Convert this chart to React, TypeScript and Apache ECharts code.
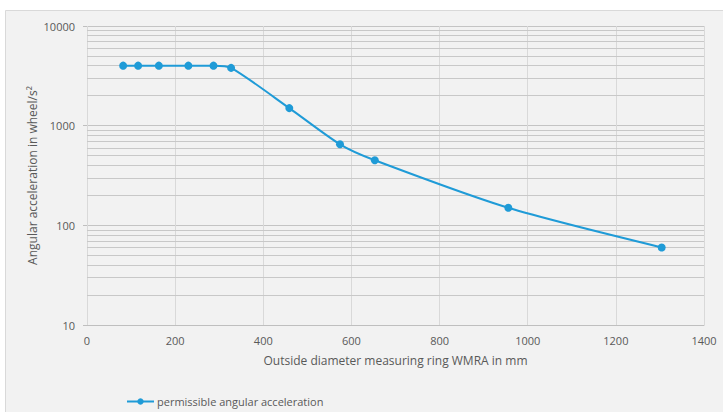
import React, { useEffect, useRef } from "react";
import * as echarts from "echarts";

const xValues = [82, 116, 163, 230, 287, 327, 459, 574, 653, 956, 1304];
const yValues = [4000, 4000, 4000, 4000, 4000, 3800, 1500, 650, 450, 150, 60];
const minorGrid = [20, 30, 40, 50, 60, 70, 80, 90, 200, 300, 400, 500, 600, 700, 800, 900, 2000, 3000, 4000, 5000, 6000, 7000, 8000, 9000];
const seriesName = "permissible angular acceleration";
const xTitle = "Outside diameter measuring ring WMRA in mm";
const yTitle = "Angular acceleration in wheel/s²";

const FONT = "'Open Sans', sans-serif";
const TEXT = "#595959";
const LINE = "#1f9bd7";

export default function App() {
  const ref = useRef<HTMLDivElement>(null);
  useEffect(() => {
    if (!ref.current) return;
    const chart = echarts.init(ref.current, null, { renderer: "svg" });
    chart.setOption({
      animation: false,
      backgroundColor: "#ffffff",
      textStyle: { fontFamily: FONT },
      graphic: [
        {
          type: "rect",
          z: -10,
          silent: true,
          shape: { x: 5.5, y: 10.5, width: 720, height: 405 },
          style: { fill: "#f2f2f2", stroke: "#d9d9d9", lineWidth: 1 },
        },
      ],
      grid: { left: 87, right: 19, top: 26, bottom: 87 },
      xAxis: {
        type: "value",
        min: 0,
        max: 1400,
        interval: 200,
        name: xTitle,
        nameLocation: "middle",
        nameGap: 29,
        nameTextStyle: { color: TEXT, fontSize: 12, fontFamily: FONT },
        axisLine: { show: true, lineStyle: { color: "#bfbfbf", width: 1 } },
        axisTick: { show: false },
        axisLabel: { color: TEXT, fontSize: 11, margin: 10, fontFamily: FONT, formatter: (v: number) => String(v) },
        splitLine: { show: true, lineStyle: { color: "#d9d9d9", width: 1 } },
      },
      yAxis: {
        type: "log",
        logBase: 10,
        min: 10,
        max: 10000,
        name: yTitle,
        nameLocation: "middle",
        nameGap: 49,
        nameMoveOverlap: false,
        nameTextStyle: { color: TEXT, fontSize: 12, fontFamily: FONT },
        axisLine: { show: false },
        axisTick: { show: true, inside: false, length: 4, lineStyle: { color: "#bfbfbf" } },
        axisLabel: { color: TEXT, fontSize: 11, margin: 12, fontFamily: FONT, formatter: (v: number) => String(Math.round(v)) },
        splitLine: { show: true, lineStyle: { color: "#c4c4c4", width: 1 } },
      },
      legend: {
        show: true,
        left: 126,
        top: 396,
        padding: 0,
        itemWidth: 27,
        itemHeight: 8,
        itemGap: 4,
        textStyle: { color: TEXT, fontSize: 11, fontFamily: FONT, padding: [0, 0, 0, -2] },
        data: [seriesName],
      },
      series: [
        {
          name: seriesName,
          type: "line",
          data: xValues.map((x, i) => [x, yValues[i]]),
          smooth: 0.25,
          symbol: "circle",
          symbolSize: 8,
          itemStyle: { color: LINE },
          lineStyle: { color: LINE, width: 2 },
          z: 5,
          markLine: {
            silent: true,
            symbol: "none",
            label: { show: false },
            lineStyle: { color: "#c8c8c8", width: 1, type: "solid" },
            emphasis: { disabled: true },
            z: 1,
            data: minorGrid.map((v) => ({ yAxis: v })),
          },
        },
      ],
    });
    return () => chart.dispose();
  }, []);
  return (
    <div
      ref={ref}
      style={{ position: "fixed", left: 0, top: 0, width: 723, height: 412 }}
    />
  );
}
